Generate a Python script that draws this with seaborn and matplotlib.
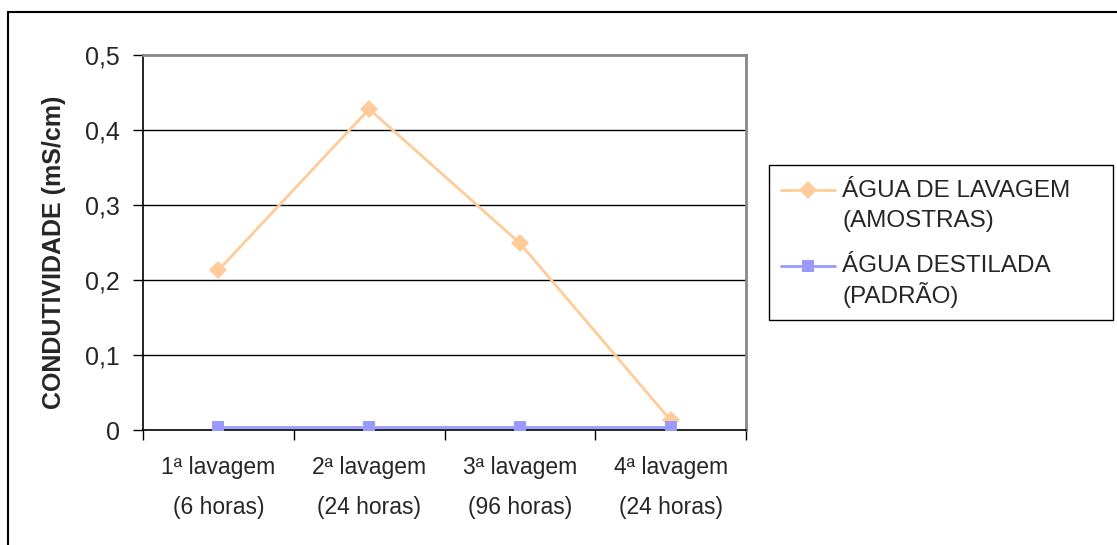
import numpy as np
import pandas as pd
import matplotlib
matplotlib.use("Agg")
import matplotlib.pyplot as plt
import seaborn as sns
from matplotlib.lines import Line2D
from matplotlib.patches import Rectangle
from matplotlib.legend_handler import HandlerLine2D

categorias = ["1ª lavagem\n(6 horas)", "2ª lavagem\n(24 horas)",
              "3ª lavagem\n(96 horas)", "4ª lavagem\n(24 horas)"]
serie_nomes = ["ÁGUA DE LAVAGEM\n(AMOSTRAS)", "ÁGUA DESTILADA\n(PADRÃO)"]
agua_lavagem = [0.213, 0.428, 0.249, 0.013]
agua_destilada = [0.004, 0.004, 0.004, 0.004]
y_ticks = [0, 0.1, 0.2, 0.3, 0.4, 0.5]
y_labels = ["0", "0,1", "0,2", "0,3", "0,4", "0,5"]

df = pd.DataFrame({
    "x": list(range(len(categorias))) * 2,
    "valor": agua_lavagem + agua_destilada,
    "serie": [serie_nomes[0]] * len(categorias) + [serie_nomes[1]] * len(categorias),
})

sns.set_style("white")
plt.rcParams["font.family"] = ["Liberation Sans", "DejaVu Sans"]

W, H = 1117, 545
fig = plt.figure(figsize=(W / 100, H / 100), dpi=100)
ax = fig.add_axes([143 / W, 1 - 430 / H, (746 - 143) / W, (430 - 55) / H])

# horizontal grid lines first
for yv in y_ticks[1:-1]:
    ax.axhline(yv, color="black", lw=1.0, zorder=1)

cores = {serie_nomes[0]: "#FFCC99", serie_nomes[1]: "#9999FF"}
marcadores = {serie_nomes[0]: "D", serie_nomes[1]: "s"}
sns.lineplot(data=df, x="x", y="valor", hue="serie", style="serie",
             palette=cores, markers=marcadores, dashes=False,
             linewidth=2, markersize=9, markeredgewidth=0, ax=ax,
             zorder=3, legend=False)

ax.set_xlim(-0.5, 3.5)
ax.set_ylim(0, 0.5)
ax.set_yticks(y_ticks)
ax.set_yticklabels(y_labels, fontsize=18)
ax.set_xticks(np.arange(-0.5, 4, 1.0))
ax.set_xticklabels([])
ax.set_xticks(range(len(categorias)), minor=True)
ax.set_xticklabels(categorias, minor=True, fontsize=16.5, linespacing=1.95)
ax.tick_params(axis="x", which="major", direction="out", length=7, width=1, color="black", bottom=True)
ax.tick_params(axis="x", which="minor", length=0, pad=19)
ax.tick_params(axis="y", direction="out", length=7, width=1, color="black", left=True, pad=9.4)
ax.set_xlabel("")
ax.set_ylabel("CONDUTIVIDADE (mS/cm)", fontsize=18, fontweight="bold")
ax.yaxis.set_label_coords((66 - 143) / 603, (430 - 252) / 375)

for s in ["left", "bottom"]:
    ax.spines[s].set_color("black")
    ax.spines[s].set_linewidth(1.2)
for s in ["top", "right"]:
    ax.spines[s].set_color("#888888")
    ax.spines[s].set_linewidth(2)


# legend handle sits next to the first line of each two-line label
class HandlerTopLine(HandlerLine2D):
    def create_artists(self, legend, orig_handle, xdescent, ydescent,
                       width, height, fontsize, trans):
        arts = super().create_artists(legend, orig_handle, xdescent, ydescent,
                                      width, height, fontsize, trans)
        for a in arts:
            a.set_ydata(np.asarray(a.get_ydata()) + 11.5)
        return arts


handles = [Line2D([], [], color=cores[n], marker=marcadores[n], lw=2,
                  markersize=9 if n == serie_nomes[0] else 8, markeredgewidth=0)
           for n in serie_nomes]
leg = fig.legend(handles, serie_nomes, loc="upper left",
                 bbox_to_anchor=(766 / W, 1 - 165 / H),
                 fontsize=17.5, frameon=False, handlelength=2.2,
                 handletextpad=0.3, labelspacing=0.95, borderpad=0.63,
                 borderaxespad=0, handler_map={Line2D: HandlerTopLine()})
textos = leg.get_texts()
textos[0].set_linespacing(1.47)
textos[1].set_linespacing(1.21)

# legend box
fig.add_artist(Rectangle((769 / W, 1 - 320 / H), (1113 - 769) / W, (320 - 165) / H,
                         transform=fig.transFigure, fill=False,
                         edgecolor="black", lw=1))

# outer chart border (only left and top visible)
fig.add_artist(Line2D([8 / W, 8 / W], [0, 1 - 12 / H], color="black", lw=1.5))
fig.add_artist(Line2D([8 / W, 1], [1 - 12 / H, 1 - 12 / H], color="black", lw=1.5))

fig.savefig("out.png", dpi=100)
